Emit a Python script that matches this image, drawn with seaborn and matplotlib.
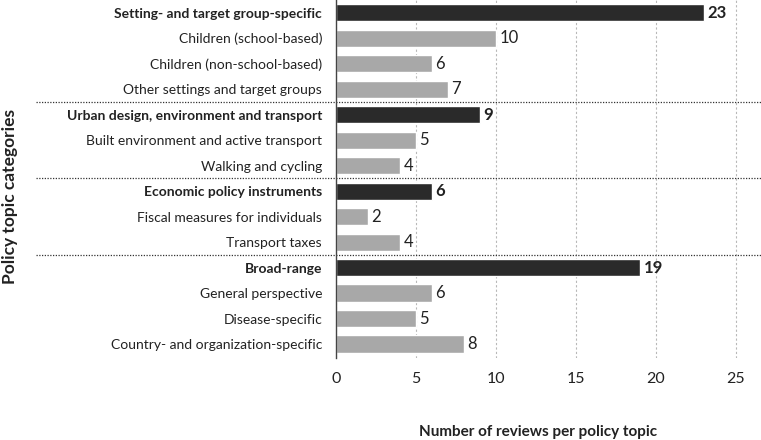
import pandas as pd
import matplotlib.pyplot as plt
import matplotlib.transforms as mtransforms
import seaborn as sns

# =========================
# DATA
# =========================
topics = [
    'Setting- and target group-specific',
    'Children (school-based)',
    'Children (non-school-based)',
    'Other settings and target groups',
    'Urban design, environment and transport',
    'Built environment and active transport',
    'Walking and cycling',
    'Economic policy instruments',
    'Fiscal measures for individuals',
    'Transport taxes',
    'Broad-range',
    'General perspective',
    'Disease-specific',
    'Country- and organization-specific',
]
reviews = [23, 10, 6, 7, 9, 5, 4, 6, 2, 4, 19, 6, 5, 8]
level = ['main', 'sub', 'sub', 'sub', 'main', 'sub', 'sub',
         'main', 'sub', 'sub', 'main', 'sub', 'sub', 'sub']

df = pd.DataFrame({'topic': topics, 'n': reviews, 'level': level})

sns.set_style('white')
plt.rcParams['font.family'] = ['Lato', 'DejaVu Sans']

fig = plt.figure(figsize=(7.61, 4.40), dpi=100)
ax = fig.add_axes([336 / 761, 82 / 440, 425 / 761, 358 / 440])

sns.barplot(data=df, y='topic', x='n', hue='level', orient='h',
            palette={'main': '#2a2a2a', 'sub': '#a8a8a8'},
            dodge=False, width=0.67, legend=False, ax=ax)

ax.set_xlim(0, 425 / 16)
ax.set_ylim(len(topics) - 0.45, -0.5)
ax.set_xticks([0, 5, 10, 15, 20, 25])
ax.tick_params(axis='x', labelsize=11.5, colors='#222222', pad=10, length=0)
ax.tick_params(axis='y', length=0, pad=10)
ax.grid(axis='x', color='#b8b8b8', linestyle=(0, (2, 2)), linewidth=0.8)
ax.set_axisbelow(True)

for s in ['top', 'right', 'bottom']:
    ax.spines[s].set_visible(False)
ax.spines['left'].set_color('#444444')
ax.spines['left'].set_linewidth(1.0)

for lab, lv in zip(ax.get_yticklabels(), level):
    lab.set_fontsize(10)
    lab.set_color('#222222')
    if lv == 'main':
        lab.set_fontweight('bold')

# nilai di ujung bar
for i, (v, lv) in enumerate(zip(reviews, level)):
    ax.text(v + 0.22, i, str(v), va='center', ha='left',
            fontsize=12,
            fontweight='bold' if lv == 'main' else 'normal', color='#222222')

# garis pemisah antar kelompok
trans = mtransforms.blended_transform_factory(fig.transFigure, ax.transData)
for i, lv in enumerate(level):
    if lv == 'main' and i > 0:
        ax.plot([36 / 761, 1], [i - 0.5, i - 0.5], transform=trans,
                color='#333333', linestyle=(0, (1, 1.2)), linewidth=0.9,
                clip_on=False)

ax.set_ylabel('')
ax.set_xlabel('')
fig.text(10 / 761, 1 - 196 / 440, 'Policy topic categories', rotation=90,
         ha='center', va='center', fontsize=12.5, fontweight='bold', color='#222222')
fig.text(538 / 761, 1 - 432 / 440, 'Number of reviews per policy topic',
         ha='center', va='center', fontsize=11, fontweight='bold', color='#222222')

fig.savefig('out.png', dpi=100)
